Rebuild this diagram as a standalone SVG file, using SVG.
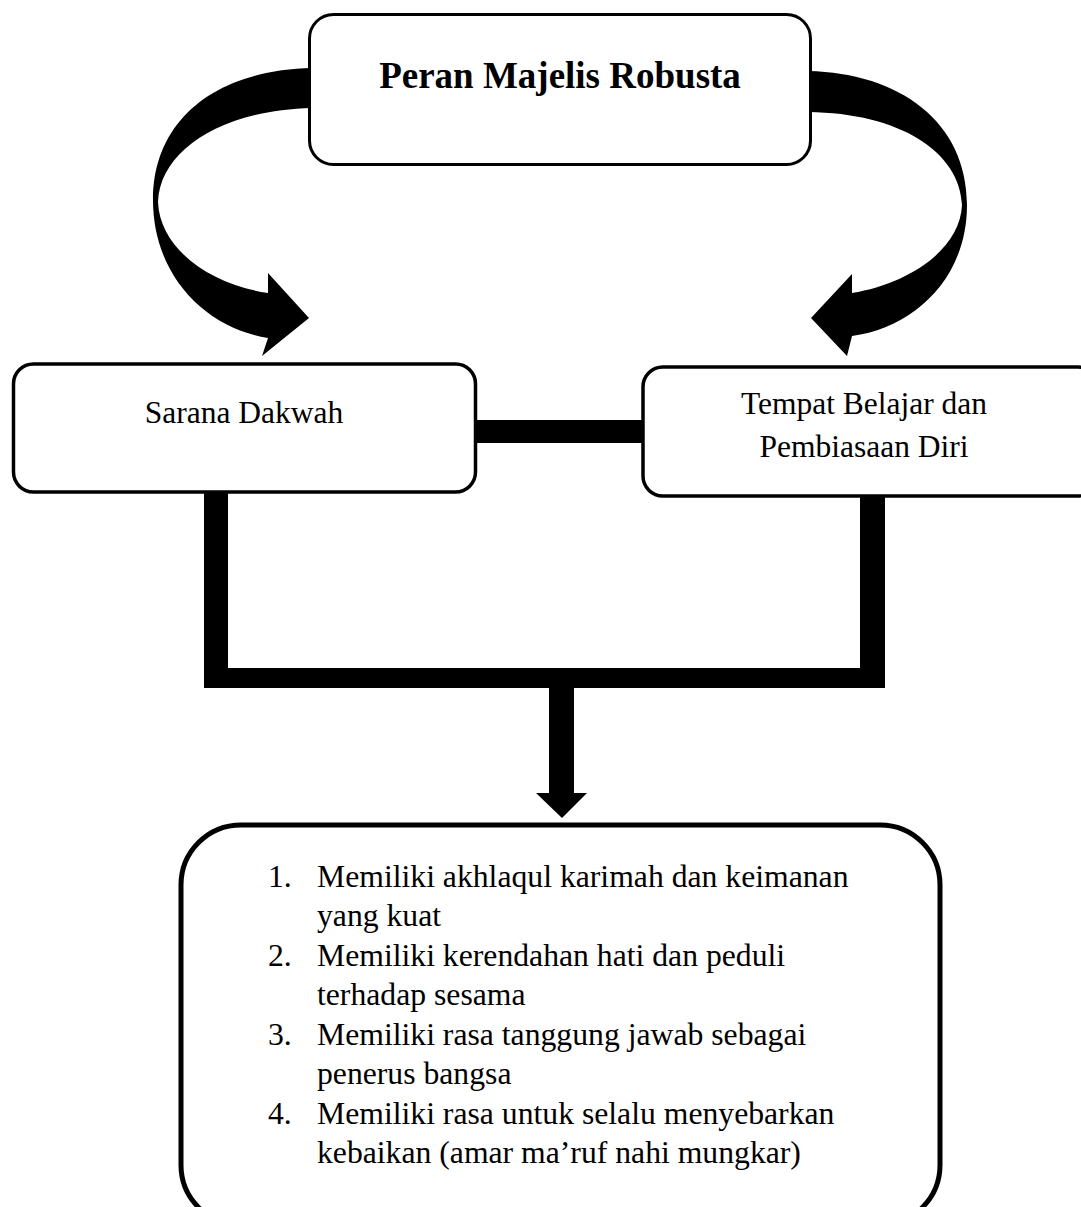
<svg xmlns="http://www.w3.org/2000/svg" width="1081" height="1207" viewBox="0 0 1081 1207">
  <style>
    .box { fill: #ffffff; stroke: #000000; }
    .t { font-family: "Liberation Serif", "Times New Roman", serif; fill: #000000; }
    .bar { fill: #000000; }
  </style>
  <rect x="0" y="0" width="1081" height="1207" fill="#ffffff"/>
  <g id="connectors">
    <path id="curve-left" class="bar" d="M 312 68 C 215 70 153 120 153 200 C 153 275 205 328 268 338 L 262 356 L 309 318 L 268 273 L 268 293 C 212 285 160 250 158 202 C 160 150 222 110 312 108 Z"/>
    <path id="curve-right" class="bar" d="M 808 71 C 900 73 967 122 967 205 C 967 280 912 328 852 336 L 847 356 L 811 318 L 852 274 L 852 293 C 908 284 960 250 962 205 C 960 152 900 113 808 112 Z"/>
    <rect class="bar" x="474" y="420" width="170" height="23"/>
    <rect class="bar" x="204" y="491" width="24" height="197"/>
    <rect class="bar" x="860" y="495" width="25" height="193"/>
    <rect class="bar" x="204" y="668" width="681" height="20"/>
    <rect class="bar" x="549" y="686" width="25" height="108"/>
    <polygon class="bar" points="536,793 587,793 562,818"/>
  </g>
  <g id="node-peran">
    <rect class="box" x="309.5" y="14.5" width="501" height="150" rx="24" stroke-width="3"/>
    <text class="t" x="560" y="88" font-size="37" font-weight="bold" text-anchor="middle">Peran Majelis Robusta</text>
  </g>
  <g id="node-sarana">
    <rect class="box" x="13.5" y="364" width="462" height="128" rx="20" stroke-width="3.5"/>
    <text class="t" x="244" y="423" font-size="31.5" text-anchor="middle">Sarana Dakwah</text>
  </g>
  <g id="node-tempat">
    <rect class="box" x="643" y="367" width="455" height="129" rx="20" stroke-width="3.5"/>
    <text class="t" x="864" y="414" font-size="31.5" text-anchor="middle">Tempat Belajar dan</text>
    <text class="t" x="864" y="457" font-size="31.5" text-anchor="middle">Pembiasaan Diri</text>
  </g>
  <g id="node-hasil">
    <rect class="box" x="181" y="825" width="759" height="400" rx="60" stroke-width="5"/>
    <g class="t" font-size="31.7">
      <text x="268" y="887">1.</text>
      <text x="317" y="887">Memiliki akhlaqul karimah dan keimanan</text>
      <text x="317" y="926">yang kuat</text>
      <text x="268" y="966">2.</text>
      <text x="317" y="966">Memiliki kerendahan hati dan peduli</text>
      <text x="317" y="1005">terhadap sesama</text>
      <text x="268" y="1045">3.</text>
      <text x="317" y="1045">Memiliki rasa tanggung jawab sebagai</text>
      <text x="317" y="1084">penerus bangsa</text>
      <text x="268" y="1124">4.</text>
      <text x="317" y="1124">Memiliki rasa untuk selalu menyebarkan</text>
      <text x="317" y="1163">kebaikan (amar ma’ruf nahi mungkar)</text>
    </g>
  </g>
</svg>
